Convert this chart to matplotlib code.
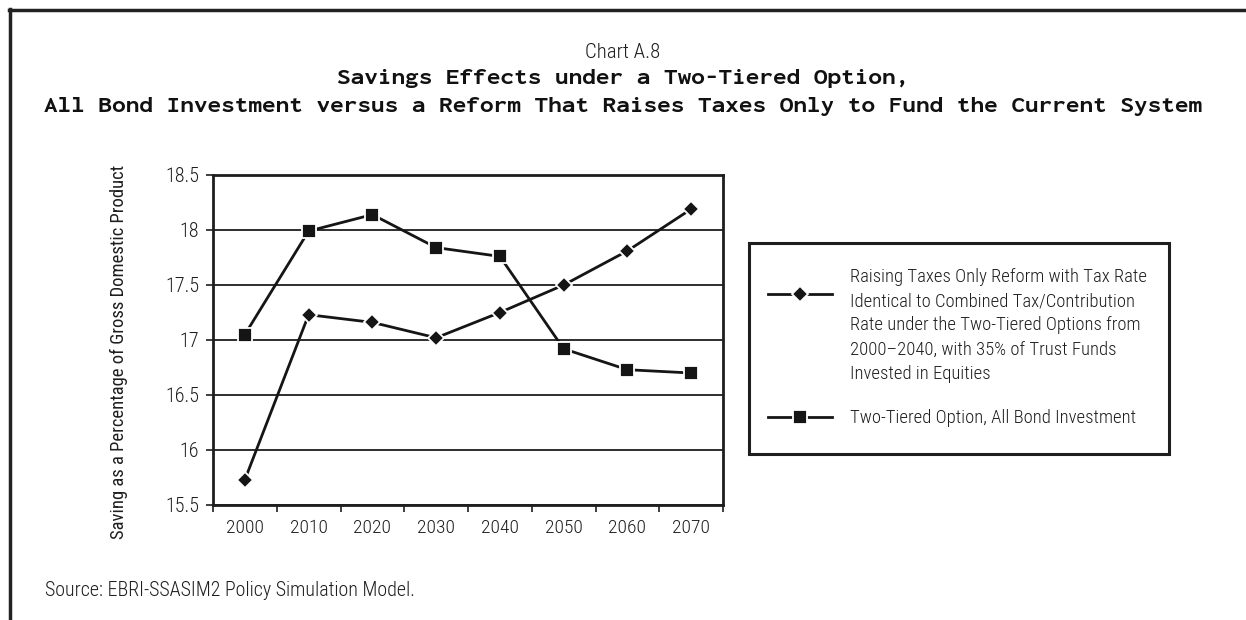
import matplotlib
matplotlib.use("Agg")
import numpy as np
import matplotlib.pyplot as plt
from matplotlib.lines import Line2D
from matplotlib.patches import Rectangle
from matplotlib.legend_handler import HandlerLine2D
from matplotlib import font_manager

years = ["2000", "2010", "2020", "2030", "2040", "2050", "2060", "2070"]
raising_taxes = [15.73, 17.23, 17.16, 17.02, 17.25, 17.50, 17.81, 18.19]
two_tiered_bond = [17.05, 17.99, 18.14, 17.84, 17.76, 16.92, 16.73, 16.70]
y_ticks = [15.5, 16, 16.5, 17, 17.5, 18, 18.5]
y_tick_labels = ["15.5", "16", "16.5", "17", "17.5", "18", "18.5"]

label_raising = ("Raising Taxes Only Reform with Tax Rate\n"
                 "Identical to Combined Tax/Contribution\n"
                 "Rate under the Two-Tiered Options from\n"
                 "2000\u20132040, with 35% of Trust Funds\n"
                 "Invested in Equities")
label_bond = "Two-Tiered Option, All Bond Investment"

available = {f.name for f in font_manager.fontManager.ttflist}


def pick(*names):
    for n in names:
        if n in available:
            return n
    return "DejaVu Sans"


body_font = pick("Roboto Condensed", "PT Sans Narrow", "Archivo Narrow", "Liberation Sans Narrow")
title_font = pick("Inconsolata", "DejaVu Sans Mono")
plt.rcParams["font.family"] = [body_font, "DejaVu Sans"]
plt.rcParams["font.weight"] = 300

INK = "#1e1e1e"
W, H = 1246, 620
fig = plt.figure(figsize=(W / 100, H / 100), dpi=100)


def fx(px):
    return px / W


def fy(py):
    return 1 - py / H


class RaisedLineHandler(HandlerLine2D):
    """Line-with-marker legend key shifted upward by a fixed number of points."""

    def __init__(self, dy=0.0, **kw):
        super().__init__(**kw)
        self.dy = dy

    def create_artists(self, legend, orig_handle, xdescent, ydescent, width, height,
                       fontsize, trans):
        artists = super().create_artists(legend, orig_handle, xdescent, ydescent, width,
                                         height, fontsize, trans)
        for a in artists:
            a.set_ydata(np.asarray(a.get_ydata(), dtype=float) + self.dy)
        return artists


# page frame: top and left rules only
fig.add_artist(Line2D([fx(10), fx(10)], [fy(9), 0], transform=fig.transFigure,
                      color="#222222", lw=2.5))
fig.add_artist(Line2D([fx(9), 1], [fy(10), fy(10)], transform=fig.transFigure,
                      color="#222222", lw=2.5))

ax = fig.add_axes([fx(213), fy(505), fx(723 - 213), (505 - 175) / H])
x = list(range(len(years)))

ax.set_ylim(15.5, 18.5)
ax.set_xlim(-0.5, len(years) - 0.5)
ax.set_yticks(y_ticks)
ax.set_yticklabels(y_tick_labels)
ax.set_xticks(x)
ax.set_xticklabels(years)
ax.set_xticks([i - 0.5 for i in range(len(years) + 1)], minor=True)
ax.tick_params(axis="x", which="major", length=0, labelsize=14, pad=10, colors=INK)
ax.tick_params(axis="x", which="minor", length=5, width=1.2, direction="out", color=INK)
ax.tick_params(axis="y", length=5, width=1.2, direction="out", labelsize=14.5,
               colors=INK, pad=5)
ax.grid(axis="y", color=INK, lw=1.3)
ax.set_axisbelow(True)
for s in ax.spines.values():
    s.set_linewidth(2)
    s.set_color(INK)

line_raising, = ax.plot(x, raising_taxes, color="#151515", lw=2, marker="D", markersize=8.5,
                        markerfacecolor="#151515", markeredgecolor="white", markeredgewidth=1.3,
                        label=label_raising, zorder=3)
line_bond, = ax.plot(x, two_tiered_bond, color="#151515", lw=2, marker="s", markersize=9.5,
                     markerfacecolor="#151515", markeredgecolor="white", markeredgewidth=1.3,
                     label=label_bond, zorder=3)

ax.set_ylabel("Saving as a Percentage of Gross Domestic Product", fontsize=13.4,
              color=INK)
ax.yaxis.set_label_coords(fx(128 - 213) / fx(723 - 213), (505 - 352) / (505 - 175))

# legend box
fig.add_artist(Rectangle((fx(749), fy(454)), fx(1169 - 749), (454 - 243) / H,
                         transform=fig.transFigure, fill=False, edgecolor=INK, lw=2.2))
leg = fig.legend(handles=[line_raising, line_bond], loc="upper left",
                 bbox_to_anchor=(fx(768), fy(268)), bbox_transform=fig.transFigure,
                 frameon=False, fontsize=13.4, handlelength=3.45, handletextpad=0.95,
                 borderpad=0, labelspacing=1.42, borderaxespad=0,
                 handler_map={line_raising: RaisedLineHandler(dy=23.0)})
for t in leg.get_texts():
    t.set_color(INK)
    t.set_linespacing(1.44)

fig.text(0.5, fy(52), "Chart A.8", ha="center", va="center", fontsize=15, color=INK)
title_kw = dict(ha="center", va="center", fontsize=16.3, fontweight=800,
                family=[title_font, "DejaVu Sans Mono"], fontstretch="expanded", color="#111111")
fig.text(0.5, fy(78), "Savings Effects under a Two-Tiered Option,", **title_kw)
fig.text(0.5, fy(106), "All Bond Investment versus a Reform That Raises Taxes Only to Fund the Current System",
         **title_kw)
fig.text(fx(45), fy(591), "Source: EBRI-SSASIM2 Policy Simulation Model.", ha="left", va="center",
         fontsize=14.4, color=INK)

fig.savefig("out.png", dpi=100, facecolor="white")
